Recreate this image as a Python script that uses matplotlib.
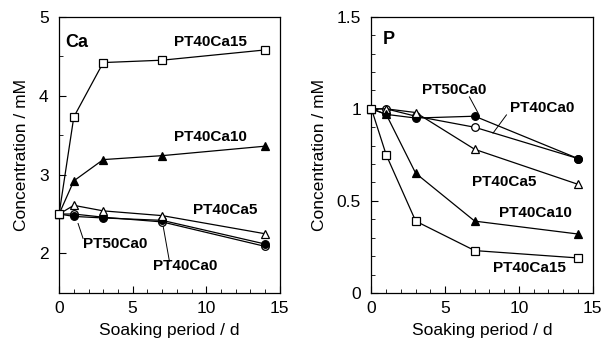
import numpy as np
import matplotlib.pyplot as plt
from matplotlib.ticker import MultipleLocator

plt.rcParams['font.family'] = ['Liberation Sans', 'DejaVu Sans']

days = [0, 1, 3, 7, 14]

# Ca concentration / mM
ca_pt40ca15 = [2.50, 3.73, 4.42, 4.45, 4.58]
ca_pt40ca10 = [2.50, 2.92, 3.19, 3.24, 3.36]
ca_pt40ca5 = [2.50, 2.61, 2.54, 2.48, 2.25]
ca_pt50ca0 = [2.50, 2.47, 2.45, 2.42, 2.12]
ca_pt40ca0 = [2.50, 2.50, 2.46, 2.40, 2.09]

# P concentration / mM
p_pt50ca0 = [1.00, 0.97, 0.95, 0.96, 0.73]
p_pt40ca0 = [1.00, 1.00, 0.96, 0.90, 0.73]
p_pt40ca5 = [1.00, 1.00, 0.98, 0.78, 0.59]
p_pt40ca10 = [1.00, 0.97, 0.65, 0.39, 0.32]
p_pt40ca15 = [1.00, 0.75, 0.39, 0.23, 0.19]

fig = plt.figure(figsize=(6.03, 3.43), dpi=100)
ax1 = fig.add_axes([0.098, 0.146, 0.366, 0.805])
ax2 = fig.add_axes([0.616, 0.146, 0.367, 0.805])

sty = dict(color='k', lw=0.9, mec='k', mew=0.9, clip_on=False)

def series(ax, y, m, filled, ms, z):
    ax.plot(days, y, marker=m, ms=ms, mfc='k' if filled else 'w', zorder=z, **sty)

# Ca panel
series(ax1, ca_pt40ca0, 'o', False, 5.5, 3)
series(ax1, ca_pt50ca0, 'o', True, 5.5, 4)
series(ax1, ca_pt40ca5, '^', False, 6, 5)
series(ax1, ca_pt40ca10, '^', True, 6, 6)
series(ax1, ca_pt40ca15, 's', False, 5.8, 7)

ax1.set_xlim(0, 15)
ax1.set_ylim(1.5, 5)
ax1.xaxis.set_major_locator(MultipleLocator(5))
ax1.xaxis.set_minor_locator(MultipleLocator(1))
ax1.yaxis.set_minor_locator(MultipleLocator(0.5))
ax1.set_yticks([2, 3, 4, 5])

bold = dict(fontsize=11, fontweight='bold', ha='center', va='center')
ax1.text(0.4, 4.68, 'Ca', fontsize=13, fontweight='bold', ha='left', va='center')
ax1.text(10.3, 4.68, 'PT40Ca15', **bold)
ax1.text(10.3, 3.48, 'PT40Ca10', **bold)
ax1.text(11.3, 2.55, 'PT40Ca5', **bold)
ax1.text(3.8, 2.12, 'PT50Ca0', **bold)
ax1.text(8.6, 1.84, 'PT40Ca0', **bold)
ax1.plot([1.29, 1.63], [2.38, 2.19], color='k', lw=0.7)
ax1.plot([7.04, 7.5], [2.38, 1.90], color='k', lw=0.7)

# P panel
series(ax2, p_pt40ca0, 'o', False, 5.5, 3)
series(ax2, p_pt50ca0, 'o', True, 5.5, 4)
series(ax2, p_pt40ca5, '^', False, 6, 5)
series(ax2, p_pt40ca10, '^', True, 6, 6)
series(ax2, p_pt40ca15, 's', False, 5.8, 7)

ax2.set_xlim(0, 15)
ax2.set_ylim(0, 1.5)
ax2.xaxis.set_major_locator(MultipleLocator(5))
ax2.xaxis.set_minor_locator(MultipleLocator(1))
ax2.yaxis.set_minor_locator(MultipleLocator(0.1))
ax2.set_yticks([0, 0.5, 1, 1.5])
ax2.set_yticklabels(['0', '0.5', '1', '1.5'])

ax2.text(0.77, 1.375, 'P', fontsize=13, fontweight='bold', ha='left', va='center')
ax2.text(5.6, 1.10, 'PT50Ca0', **bold)
ax2.text(11.6, 1.005, 'PT40Ca0', **bold)
ax2.text(9.0, 0.60, 'PT40Ca5', **bold)
ax2.text(11.1, 0.435, 'PT40Ca10', **bold)
ax2.text(10.7, 0.135, 'PT40Ca15', **bold)
ax2.plot([6.64, 7.23], [1.065, 0.977], color='k', lw=0.7)
ax2.plot([9.15, 8.24], [0.967, 0.868], color='k', lw=0.7)

for ax in (ax1, ax2):
    ax.tick_params(which='both', direction='in', top=False, right=False, labelsize=12.5)
    ax.tick_params(axis='x', which='major', length=5, pad=6)
    ax.tick_params(axis='y', which='major', length=5, pad=7.5)
    ax.tick_params(which='minor', length=3)
    for sp in ax.spines.values():
        sp.set_linewidth(0.9)
    ax.set_xlabel('Soaking period / d', fontsize=12.5, labelpad=5)
    ax.set_ylabel('Concentration / mM', fontsize=12.5, labelpad=7)

fig.savefig('out.png', dpi=100)
